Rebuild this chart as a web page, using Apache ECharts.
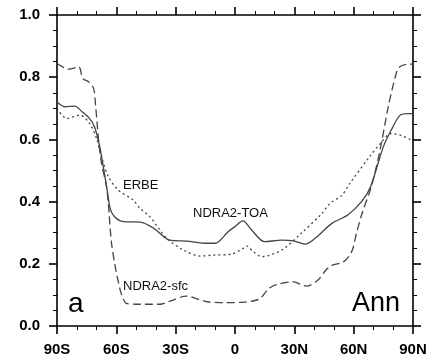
<!DOCTYPE html>
<html>
<head>
<meta charset="utf-8">
<script src="https://cdn.jsdelivr.net/npm/echarts@6/dist/echarts.min.js"></script>
<style>
  html, body { margin: 0; padding: 0; background: #fff; }
  #chart { width: 430px; height: 361px; }
</style>
</head>
<body>
<div id="chart"></div>
<script>
// latitude ticks (value axis, -90..90)
const xTickValues = [-90, -60, -30, 0, 30, 60, 90];
const xTickLabels = ["90S", "60S", "30S", "0", "30N", "60N", "90N"];

// NDRA2-TOA (solid)
const toaLat = [-90, -86, -81, -77.5, -73.5, -71, -68.5, -66, -64.5, -63, -61, -58, -55, -48, -41, -33, -24.5, -14, -10, -3.5, 0, 4, 8.5, 15, 23.5, 29.5, 35.5, 40.5, 49, 57, 64, 68.5, 75, 79, 83.5, 87.5, 90];
const toaVal = [0.72, 0.705, 0.707, 0.69, 0.667, 0.64, 0.58, 0.49, 0.43, 0.375, 0.352, 0.338, 0.335, 0.334, 0.314, 0.276, 0.273, 0.266, 0.266, 0.303, 0.32, 0.338, 0.308, 0.271, 0.276, 0.274, 0.263, 0.282, 0.33, 0.357, 0.4, 0.447, 0.576, 0.63, 0.678, 0.683, 0.683];

// ERBE (dotted)
const erbeLat = [-90, -85, -78.5, -73.5, -70, -67.5, -64, -59, -51.5, -48, -43, -34.5, -26, -17.5, -11, -2, 3, 6, 9, 13.5, 23.5, 33.5, 44, 48, 54, 58, 68, 73.5, 79, 83.5, 88.5, 90];
const erbeVal = [0.70, 0.667, 0.678, 0.651, 0.603, 0.544, 0.48, 0.437, 0.405, 0.378, 0.351, 0.282, 0.244, 0.225, 0.228, 0.231, 0.245, 0.257, 0.24, 0.223, 0.244, 0.298, 0.362, 0.394, 0.42, 0.458, 0.544, 0.587, 0.619, 0.614, 0.60, 0.598];

// NDRA2-sfc (dashed)
const sfcLat = [-90, -84, -79, -77, -74, -71.5, -70.5, -69, -67.5, -65, -64, -62.5, -60.7, -59, -57.3, -55, -50, -45, -38, -33, -24.5, -18, -14, -5, 5, 10, 13, 17, 21, 29.5, 36, 42, 46, 49, 55, 59, 61.5, 64, 69, 73, 77.5, 81, 83, 88, 90];
const sfcVal = [0.844, 0.826, 0.833, 0.796, 0.785, 0.764, 0.71, 0.6, 0.523, 0.45, 0.39, 0.27, 0.196, 0.142, 0.10, 0.073, 0.07, 0.07, 0.07, 0.08, 0.096, 0.085, 0.078, 0.075, 0.077, 0.082, 0.09, 0.12, 0.133, 0.142, 0.128, 0.148, 0.18, 0.195, 0.207, 0.239, 0.3, 0.357, 0.45, 0.555, 0.705, 0.80, 0.832, 0.842, 0.842];

const pair = (xs, ys) => xs.map((x, i) => [x, ys[i]]);

const chart = echarts.init(document.getElementById("chart"));
const labelFont = { color: "#000", fontFamily: "Liberation Sans, Arial, sans-serif", fontWeight: "bold", fontSize: 15 };
const lineCol = "#444";

const xBase = {
  type: "value", min: -90, max: 90, interval: 30,
  axisLine: { show: true, onZero: false, lineStyle: { color: "#000", width: 1.6 } },
  axisTick: { show: true, length: 8, lineStyle: { color: "#000", width: 1.6 } },
  minorTick: { show: true, splitNumber: 3, length: 4, lineStyle: { color: "#000", width: 1 } },
  splitLine: { show: false }
};
const yBase = {
  type: "value", min: 0, max: 1, interval: 0.2,
  axisLine: { show: true, onZero: false, lineStyle: { color: "#000", width: 1.6 } },
  axisTick: { show: true, length: 8, lineStyle: { color: "#000", width: 1.6 } },
  minorTick: { show: true, splitNumber: 4, length: 4, lineStyle: { color: "#000", width: 1 } },
  splitLine: { show: false }
};

chart.setOption({
  animation: false,
  backgroundColor: "#fff",
  grid: { left: 57, right: 17, top: 15, bottom: 35 },
  xAxis: [
    Object.assign({}, xBase, {
      position: "bottom",
      axisLabel: Object.assign({}, labelFont, {
        margin: 16,
        formatter: (v) => xTickLabels[xTickValues.indexOf(v)] ?? ""
      })
    }),
    Object.assign({}, xBase, { position: "top", axisLabel: { show: false } })
  ],
  yAxis: [
    Object.assign({}, yBase, {
      position: "left",
      axisLabel: Object.assign({}, labelFont, { margin: 17, formatter: (v) => v.toFixed(1) })
    }),
    Object.assign({}, yBase, { position: "right", axisLabel: { show: false } })
  ],
  series: [
    {
      name: "NDRA2-TOA", type: "line", smooth: 0.3, showSymbol: false,
      lineStyle: { color: lineCol, width: 1.3, type: "solid" },
      data: pair(toaLat, toaVal)
    },
    {
      name: "ERBE", type: "line", smooth: 0.3, showSymbol: false,
      lineStyle: { color: lineCol, width: 1.3, type: [2, 3] },
      data: pair(erbeLat, erbeVal)
    },
    {
      name: "NDRA2-sfc", type: "line", smooth: 0.3, showSymbol: false,
      lineStyle: { color: lineCol, width: 1.3, type: [8, 4] },
      data: pair(sfcLat, sfcVal)
    }
  ],
  graphic: [
    { type: "text", left: 123, top: 179, style: { text: "ERBE", font: "13px Liberation Sans, Arial, sans-serif", fill: "#111" } },
    { type: "text", left: 193, top: 207, style: { text: "NDRA2-TOA", font: "13px Liberation Sans, Arial, sans-serif", fill: "#111" } },
    { type: "text", left: 123, top: 280, style: { text: "NDRA2-sfc", font: "13px Liberation Sans, Arial, sans-serif", fill: "#111" } },
    { type: "text", left: 68, top: 290, style: { text: "a", font: "28px Liberation Sans, Arial, sans-serif", fill: "#000" } },
    { type: "text", left: 352, top: 290, style: { text: "Ann", font: "27px Liberation Sans, Arial, sans-serif", fill: "#000" } }
  ]
});
</script>
</body>
</html>
